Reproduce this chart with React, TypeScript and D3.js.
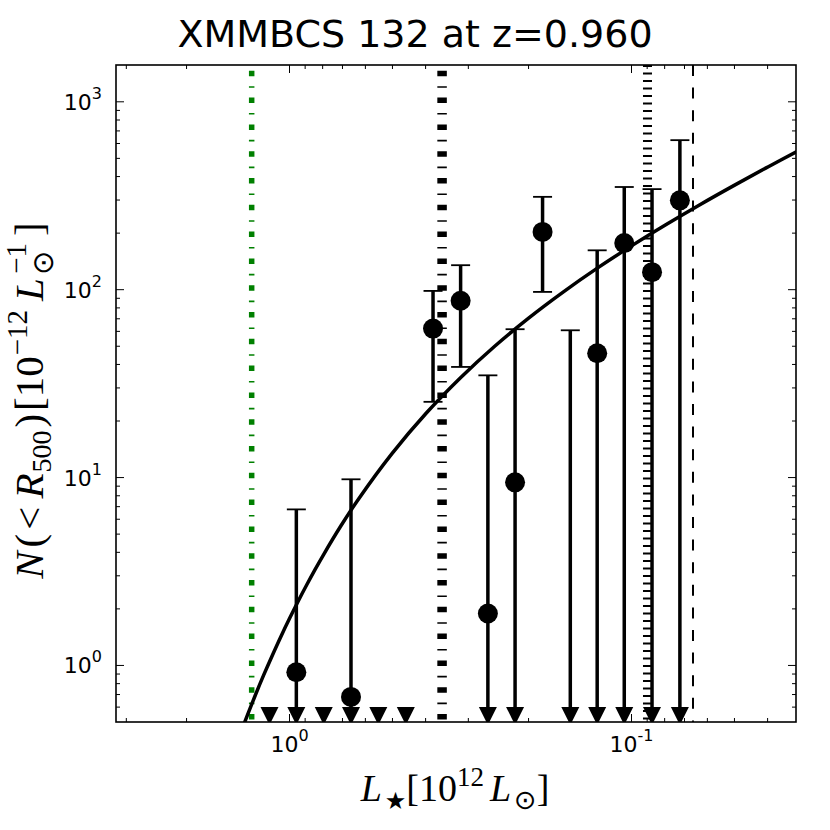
import React from "react";
import * as d3 from "d3";

// ---- data ----
const binLum = [1.144, 0.955, 0.794, 0.661, 0.55, 0.457, 0.3805, 0.316, 0.263, 0.219, 0.182, 0.151, 0.126, 0.105, 0.0871, 0.0722];
const counts = [null, 0.92, null, 0.68, null, null, 62.1, 87.3, 1.89, 9.43, 203, null, 45.9, 177, 124, 299];
const errUpper = [null, 6.77, null, 9.79, null, null, 98.5, 135, 35.0, 61.6, 312, 60.8, 162, 352, 343, 625];
const errLower = [null, null, null, null, null, null, 25.3, 38.8, null, null, 97.3, null, null, null, null, null];
const isUpperLimit = [true, true, true, true, true, true, false, false, true, true, false, true, true, true, true, true];
const limitLevel = 0.538;

const fitLum = [1.4125, 1.318, 1.259, 1.1885, 1.122, 1.0593, 1.0, 0.9441, 0.891, 0.8414, 0.794, 0.708, 0.631, 0.501, 0.398, 0.3162, 0.2512, 0.1995, 0.1585, 0.1259, 0.1, 0.0794, 0.0631, 0.0501, 0.0398, 0.0316];
const fitN = [0.405, 0.563, 0.694, 0.893, 1.134, 1.427, 1.776, 2.19, 2.679, 3.246, 3.906, 5.52, 7.6, 13.45, 22.05, 34.0, 50.0, 70.8, 97.1, 130.2, 171.1, 221.6, 283.4, 359.2, 451.6, 564.4];

const refLineLum = [1.29, 0.358, 0.0898, 0.0661];

const xDomain = [3.216, 0.03304];
const yDomain = [0.5, 1570];
const xMajorTicks = [1, 0.1];
const xMajorExp = ["0", "-1"];
const xMinorTicks = [3, 2, 0.9, 0.8, 0.7, 0.6, 0.5, 0.4, 0.3, 0.2, 0.09, 0.08, 0.07, 0.06, 0.05, 0.04];
const yMajorTicks = [1, 10, 100, 1000];
const yMajorExp = ["0", "1", "2", "3"];
const yMinorTicks = [0.6, 0.7, 0.8, 0.9, 2, 3, 4, 5, 6, 7, 8, 9, 20, 30, 40, 50, 60, 70, 80, 90, 200, 300, 400, 500, 600, 700, 800, 900];

const titleText = "XMMBCS 132 at z=0.960";

// ---- layout ----
const W = 830, H = 830;
const L = 116, R = 796, T = 65, B = 722;

const refStyles = [
  { color: "#008000", width: 5.5, dash: "5.5 9.9 1.6 9.8", offset: 21 },
  { color: "#000000", width: 9.5, dash: "5.5 9.9 1.6 9.8", offset: 21 },
  { color: "#000000", width: 9, dash: "1.9 5.6", offset: 0 },
  { color: "#000000", width: 2, dash: "11 11.6", offset: 0 },
];

export default function App() {
  const x = d3.scaleLog().domain(xDomain).range([L, R]);
  const y = d3.scaleLog().domain(yDomain).range([B, T]);

  const fitPts: [number, number][] = fitLum.map((l, i) => [x(l), y(fitN[i])]);
  const line = d3.line().curve(d3.curveCatmullRom.alpha(0.5));
  const fitPath = line(fitPts) || "";

  const tri = (cx: number, cy: number, s: number) =>
    `M${cx - s / 2},${cy - s / 2}L${cx + s / 2},${cy - s / 2}L${cx},${cy + s / 2}Z`;

  const sans = "DejaVu Sans, sans-serif";
  const serif = "Liberation Serif, DejaVu Serif, serif";

  return (
    <svg width={W} height={H} style={{ position: "absolute", left: 0, top: 0, background: "#fff" }}>
      <rect x={0} y={0} width={W} height={H} fill="#fff" />
      <defs>
        <clipPath id="plot">
          <rect x={L} y={T} width={R - L} height={B - T} />
        </clipPath>
      </defs>

      <g clipPath="url(#plot)">
        {refLineLum.map((v, i) => (
          <line
            key={"ref" + i}
            x1={x(v)}
            x2={x(v)}
            y1={T}
            y2={B}
            stroke={refStyles[i].color}
            strokeWidth={refStyles[i].width}
            strokeDasharray={refStyles[i].dash}
            strokeDashoffset={refStyles[i].offset}
          />
        ))}

        {binLum.map((l, i) => {
          const cx = x(l);
          const els: any[] = [];
          if (errUpper[i] != null) {
            const yTop = y(errUpper[i] as number);
            const yBot = isUpperLimit[i] ? y(limitLevel) : y(errLower[i] as number);
            els.push(<line key="v" x1={cx} x2={cx} y1={yTop} y2={yBot} stroke="#000" strokeWidth={3.5} />);
            els.push(<line key="ct" x1={cx - 9.5} x2={cx + 9.5} y1={yTop} y2={yTop} stroke="#000" strokeWidth={1.8} />);
            if (!isUpperLimit[i]) {
              els.push(<line key="cb" x1={cx - 9.5} x2={cx + 9.5} y1={yBot} y2={yBot} stroke="#000" strokeWidth={1.8} />);
            }
          }
          if (isUpperLimit[i]) {
            els.push(<path key="t" d={tri(cx, y(limitLevel), 18)} fill="#000" />);
          }
          if (counts[i] != null) {
            els.push(<circle key="c" cx={cx} cy={y(counts[i] as number)} r={10} fill="#000" />);
          }
          return <g key={"b" + i}>{els}</g>;
        })}

        <path d={fitPath} fill="none" stroke="#000" strokeWidth={3.5} />
      </g>

      {/* ticks */}
      <g stroke="#000" strokeWidth={1}>
        {xMajorTicks.map((v, i) => (
          <g key={"xM" + i}>
            <line x1={x(v)} x2={x(v)} y1={B} y2={B - 8} />
            <line x1={x(v)} x2={x(v)} y1={T} y2={T + 8} />
          </g>
        ))}
        {xMinorTicks.map((v, i) => (
          <g key={"xm" + i}>
            <line x1={x(v)} x2={x(v)} y1={B} y2={B - 4} />
            <line x1={x(v)} x2={x(v)} y1={T} y2={T + 4} />
          </g>
        ))}
        {yMajorTicks.map((v, i) => (
          <g key={"yM" + i}>
            <line x1={L} x2={L + 8} y1={y(v)} y2={y(v)} />
            <line x1={R} x2={R - 8} y1={y(v)} y2={y(v)} />
          </g>
        ))}
        {yMinorTicks.map((v, i) => (
          <g key={"ym" + i}>
            <line x1={L} x2={L + 4} y1={y(v)} y2={y(v)} />
            <line x1={R} x2={R - 4} y1={y(v)} y2={y(v)} />
          </g>
        ))}
      </g>

      <rect x={L} y={T} width={R - L} height={B - T} fill="none" stroke="#000" strokeWidth={1.6} />

      {/* tick labels */}
      {xMajorTicks.map((v, i) => (
        <text key={"xl" + i} x={x(v)} y={752} textAnchor="middle" fontFamily={sans} fontSize={22} fill="#000">
          10<tspan fontSize={16} dy={-11}>{xMajorExp[i]}</tspan>
        </text>
      ))}
      {yMajorTicks.map((v, i) => (
        <text key={"yl" + i} x={102} y={y(v) + 8} textAnchor="end" fontFamily={sans} fontSize={22} fill="#000">
          10<tspan fontSize={16} dy={-11}>{yMajorExp[i]}</tspan>
        </text>
      ))}

      {/* title */}
      <text x={415} y={47} textAnchor="middle" fontFamily={sans} fontSize={38} fill="#000">
        {titleText}
      </text>

      {/* x label */}
      <text x={455} y={801} textAnchor="middle" fontFamily={serif} fontSize={38} fill="#000">
        <tspan fontStyle="italic">L</tspan>
        <tspan fontSize={24} dy={8} dx={3} fontFamily="DejaVu Sans">★</tspan>
        <tspan dy={-8}>[10</tspan>
        <tspan fontSize={27} dy={-15}>12</tspan>
        <tspan dy={15} dx={6} fontStyle="italic">L</tspan>
        <tspan fontSize={27} dy={8} dx={3} fontFamily="DejaVu Sans">⊙</tspan>
        <tspan dy={-8}>]</tspan>
      </text>

      {/* y label */}
      <text transform={`translate(43,${(T + B) / 2 + 7}) rotate(-90)`} textAnchor="middle" fontFamily={serif} fontSize={41} fill="#000">
        <tspan fontStyle="italic">N</tspan>
        <tspan dx={4}>(</tspan>
        <tspan dx={4}>&lt;</tspan>
        <tspan dx={8} fontStyle="italic">R</tspan>
        <tspan fontSize={28} dy={8} dx={1}>500</tspan>
        <tspan dy={-8} dx={3}>)</tspan>
        <tspan dx={3}>[10</tspan>
        <tspan fontSize={29} dy={-16} dx={1}>−12</tspan>
        <tspan dy={16} dx={9} fontStyle="italic">L</tspan>
        <tspan fontSize={29} dy={10} dx={3} fontFamily="DejaVu Sans">⊙</tspan>
        <tspan fontSize={29} dy={-27} dx={-23}>−1</tspan>
        <tspan dy={17} dx={7}>]</tspan>
      </text>
    </svg>
  );
}
